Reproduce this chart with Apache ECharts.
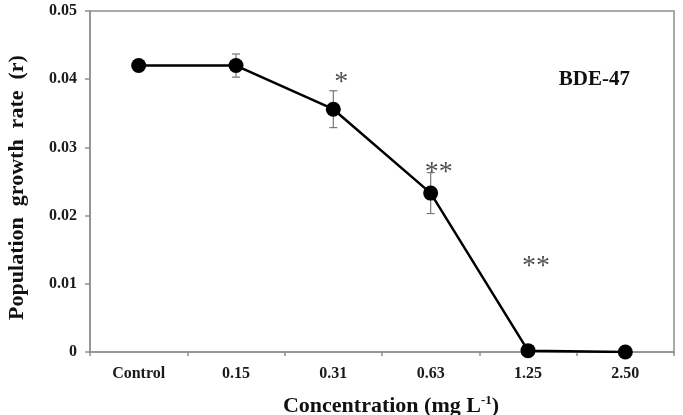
<!DOCTYPE html>
<html>
<head>
<meta charset="utf-8">
<script src="https://cdn.jsdelivr.net/npm/echarts@6/dist/echarts.min.js"></script>
<style>
  html, body { margin: 0; padding: 0; background: #fff; }
  #chart { width: 683px; height: 415px; }
</style>
</head>
<body>
<div id="chart"></div>
<script>
// values
const categories = ['Control', '0.15', '0.31', '0.63', '1.25', '2.50'];
const growthRate = [0.0420, 0.0420, 0.0356, 0.0233, 0.0002, 0.0000];
const growthErr = [0, 0.0017, 0.0027, 0.0030, 0, 0];
const sigMarks = ['', '', '*', '**', '**', ''];
const sigHeight = [null, null, 0.0403, 0.0270, 0.0132, null];
const yTicks = [0, 0.01, 0.02, 0.03, 0.04, 0.05];

const font = 'Liberation Serif, Times New Roman, serif';
const axisGray = '#8f8f8f';

const chart = echarts.init(document.getElementById('chart'));

chart.setOption({
  backgroundColor: '#fff',
  animation: false,
  textStyle: { fontFamily: font },
  title: {
    text: 'BDE-47',
    right: 48,
    top: 64,
    textStyle: { fontFamily: font, fontSize: 21, fontWeight: 'bold', color: '#111' }
  },
  grid: {
    left: 90, right: 9, top: 11, bottom: 63,
    outerBoundsMode: 'none',
    show: true, borderColor: axisGray, borderWidth: 1.5
  },
  xAxis: {
    type: 'category',
    data: categories,
    boundaryGap: true,
    name: 'Concentration (mg L{sup|-1})',
    nameLocation: 'middle',
    nameGap: 42,
    nameTextStyle: {
      fontFamily: font, fontSize: 22, fontWeight: 'bold', color: '#111',
      padding: [0, 0, 0, 18],
      rich: {
        sup: { fontFamily: font, fontSize: 13, fontWeight: 'bold', color: '#111', verticalAlign: 'top', padding: [0, 0, 12, 0] }
      }
    },
    axisLine: { lineStyle: { color: axisGray, width: 1.5 } },
    axisTick: { show: true, length: 4, alignWithLabel: false, lineStyle: { color: axisGray, width: 1.5 } },
    axisLabel: { fontFamily: font, fontSize: 16, fontWeight: 'bold', color: '#1a1a1a', margin: 14 }
  },
  yAxis: {
    type: 'value',
    min: yTicks[0],
    max: yTicks[yTicks.length - 1],
    interval: 0.01,
    name: 'Population  growth  rate  (r)',
    nameLocation: 'middle',
    nameGap: 62,
    nameTextStyle: { fontFamily: font, fontSize: 22, fontWeight: 'bold', color: '#111', padding: [0, 12, 0, 0] },
    splitLine: { show: false },
    axisLine: { show: true, lineStyle: { color: axisGray, width: 1.5 } },
    axisTick: { show: true, length: 5, lineStyle: { color: axisGray, width: 1.5 } },
    axisLabel: {
      fontFamily: font, fontSize: 16, fontWeight: 'bold', color: '#1a1a1a', margin: 13,
      formatter: v => (v === 0 ? '0' : v.toFixed(2))
    }
  },
  series: [
    {
      name: 'r',
      type: 'line',
      data: growthRate,
      symbol: 'circle',
      symbolSize: 15,
      lineStyle: { color: '#000', width: 2.5 },
      itemStyle: { color: '#000' },
      z: 3
    },
    {
      name: 'error',
      type: 'custom',
      data: growthRate.map((v, i) => [i, v - growthErr[i], v + growthErr[i]]),
      renderItem: (params, api) => {
        if (growthErr[params.dataIndex] === 0) return null;
        const lo = api.coord([api.value(0), api.value(1)]);
        const hi = api.coord([api.value(0), api.value(2)]);
        const w = 4;
        const style = { stroke: '#777', lineWidth: 1.2 };
        return {
          type: 'group',
          children: [
            { type: 'line', shape: { x1: lo[0], y1: lo[1], x2: hi[0], y2: hi[1] }, style },
            { type: 'line', shape: { x1: lo[0] - w, y1: lo[1], x2: lo[0] + w, y2: lo[1] }, style },
            { type: 'line', shape: { x1: hi[0] - w, y1: hi[1], x2: hi[0] + w, y2: hi[1] }, style }
          ]
        };
      },
      z: 2
    },
    {
      name: 'significance',
      type: 'scatter',
      data: sigHeight.map((v, i) => (v === null ? null : [i, v])),
      symbolSize: 0,
      label: {
        show: true,
        position: 'inside',
        offset: [8, 5],
        formatter: p => sigMarks[p.dataIndex],
        fontFamily: font,
        fontSize: 28,
        color: '#222'
      },
      z: 4
    }
  ]
});
</script>
</body>
</html>
